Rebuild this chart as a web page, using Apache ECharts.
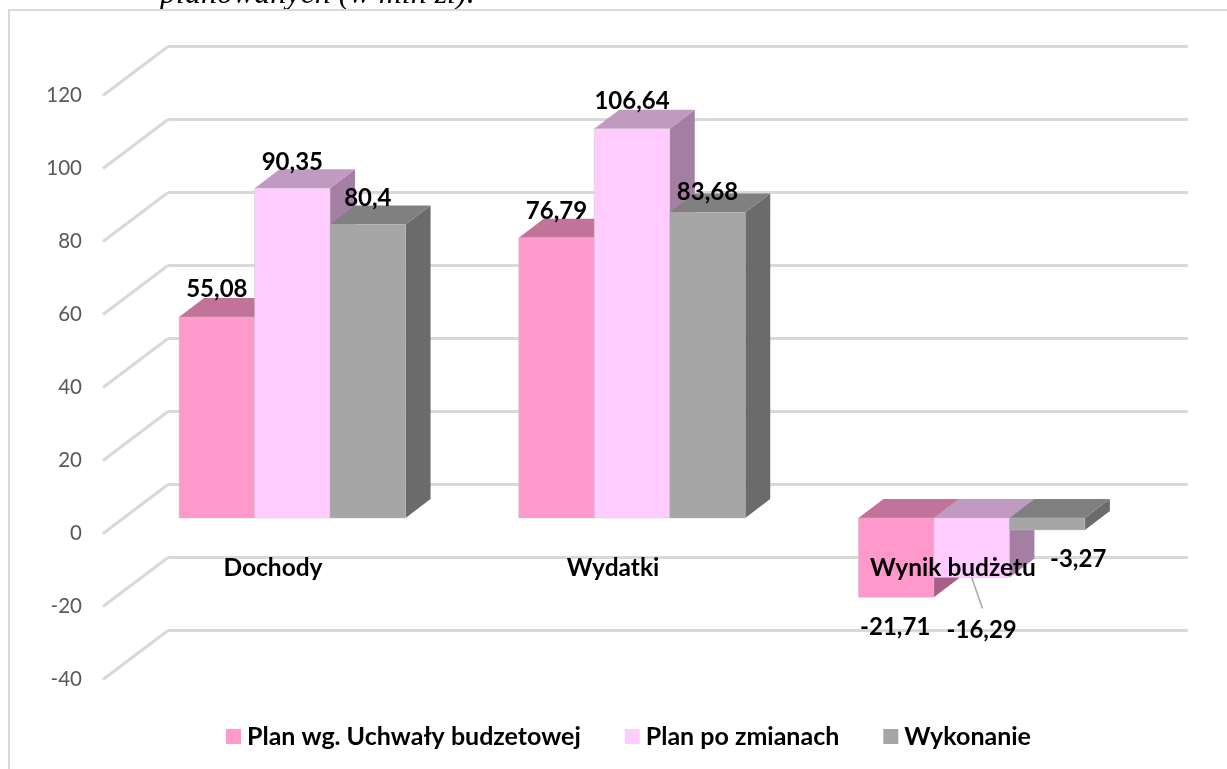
<!DOCTYPE html>
<html><head><meta charset="utf-8">
<style>html,body{margin:0;padding:0;background:#fff}#c{width:1227px;height:769px}</style>
<script src="https://cdn.jsdelivr.net/npm/echarts@6/dist/echarts.min.js"></script>
</head><body><div id="c"></div>
<script>
const categories = ['Dochody', 'Wydatki', 'Wynik budżetu'];
const planUchwala = [55.08, 76.79, -21.71];
const planZmiany = [90.35, 106.64, -16.29];
const wykonanie = [80.4, 83.68, -3.27];
const seriesNames = ['Plan wg. Uchwały budzetowej', 'Plan po zmianach', 'Wykonanie'];
const valueLabels = [['55,08','76,79','-21,71'], ['90,35','106,64','-16,29'], ['80,4','83,68','-3,27']];
const yTicks = [-40, -20, 0, 20, 40, 60, 80, 100, 120];
const titleFragment = 'planowanych (w mln zł).';

// styling / layout
const faces = [
  {front:'#FF99CC', top:'#C1739A', side:'#A66087'},
  {front:'#FFCCFF', top:'#C19AC1', side:'#A47FA3'},
  {front:'#A6A6A6', top:'#808080', side:'#6B6B6B'}
];
const labelShift = [
  [[0,-28],[0,-26],[-1,30]],
  [[0,-26],[0,-27],[10,53]],
  [[0,-26],[0,-20],[31,29]]
];
const DX = 25, DY = 19, WALL_DX = 65, WALL_DY = 49;
const FONT = 'Lato, "Open Sans", sans-serif';
const GRID = '#D9D9D9';

function barItem(s, values) {
  return function (params, api) {
    const i = api.value(0), v = api.value(1);
    const band = api.size([1, 0])[0];
    const w = band / 4.5;
    const c = api.coord([i, 0]);
    const vy = api.coord([i, v])[1];
    const x0 = c[0] + (s - 1.5) * w, x1 = x0 + w;
    const y0 = c[1];
    const top = Math.min(y0, vy), bot = Math.max(y0, vy);
    const f = faces[s];
    const poly = (pts, fill) => ({type:'polygon', shape:{points:pts}, style:{fill:fill}});
    return {type:'group', children:[
      poly([[x1,top],[x1+DX,top-DY],[x1+DX,bot-DY],[x1,bot]], f.side),
      poly([[x0,top],[x1,top],[x1+DX,top-DY],[x0+DX,top-DY]], f.top),
      {type:'rect', shape:{x:x0,y:top,width:w,height:bot-top}, style:{fill:f.front, stroke:'rgba(190,190,190,0.4)', lineWidth:1}}
    ]};
  };
}
function labelItem(s) {
  return function (params, api) {
    const i = api.value(0), v = api.value(1);
    const band = api.size([1, 0])[0];
    const w = band / 4.5;
    const c = api.coord([i, v]);
    const sh = labelShift[s][i];
    return {type:'text', x:c[0] + (s - 1) * w + sh[0], y:c[1] + sh[1],
      style:{text:valueLabels[s][i], fill:'#000', font:'bold 24px ' + FONT, align:'center', verticalAlign:'middle'}};
  };
}
const allValues = [planUchwala, planZmiany, wykonanie];
const series = [];
allValues.forEach((vals, s) => {
  series.push({type:'custom', name:seriesNames[s], xAxisIndex:0, yAxisIndex:0, z:3,
    coordinateSystem:'cartesian2d', itemStyle:{color:faces[s].front},
    renderItem:barItem(s, vals), data:vals.map((v,i)=>[i,v]), silent:true});
});
// side-wall gridlines
series.push({type:'custom', xAxisIndex:1, yAxisIndex:1, z:1, silent:true,
  renderItem:function(params, api){
    const v = api.value(0);
    const p = api.coord([0, v]);
    const x = params.coordSys.x;
    return {type:'line', shape:{x1:x,y1:p[1],x2:x+WALL_DX,y2:p[1]-WALL_DY}, style:{stroke:GRID,lineWidth:3}};
  },
  data:yTicks.map(v=>[v])});
// leader line for the -16,29 label
series.push({type:'custom', xAxisIndex:0, yAxisIndex:0, z:4, silent:true,
  renderItem:function(params, api){
    const band = api.size([1, 0])[0];
    const p = api.coord([api.value(0), api.value(1)]);
    return {type:'line', shape:{x1:p[0],y1:p[1],x2:p[0]+band*0.032,y2:p[1]+31}, style:{stroke:'#A6A6A6',lineWidth:1.5}};
  },
  data:[[2, planZmiany[2]]]});
allValues.forEach((vals, s) => {
  series.push({type:'custom', xAxisIndex:0, yAxisIndex:0, z:6, silent:true,
    renderItem:labelItem(s), data:vals.map((v,i)=>[i,v])});
});

const chart = echarts.init(document.getElementById('c'), null, {renderer:'canvas'});
chart.setOption({
  animation:false,
  backgroundColor:'#fff',
  graphic:[
    {type:'text', left:160, top:-21, z:-3, style:{text:titleFragment, fill:'#000', font:'italic 32px "Liberation Serif", serif'}},
    {type:'rect', z:-2, shape:{x:9,y:10,width:1240,height:780}, style:{fill:'#fff', stroke:GRID, lineWidth:2}}
  ],
  grid:[
    {left:122.5, top:80, width:1019, height:584},   // bar plane
    {left:103, top:95.5, width:1020, height:584},   // front edge of the floor/wall
    {left:168, top:46, width:1020, height:584}      // back wall
  ],
  legend:{
    data:seriesNames, left:221, top:719, icon:'rect', itemWidth:15, itemHeight:15, itemGap:44,
    itemStyle:{borderWidth:0},
    textStyle:{fontFamily:FONT, fontWeight:'bold', fontSize:25, color:'#000', padding:[0,0,0,1]}
  },
  xAxis:[
    {gridIndex:0, type:'category', data:categories, show:false},
    {gridIndex:1, type:'category', data:categories, z:5, position:'bottom',
      axisLine:{show:false}, axisTick:{show:false}, splitLine:{show:false},
      axisLabel:{margin:-124, color:'#000', fontFamily:FONT, fontWeight:'bold', fontSize:24.5}},
    {gridIndex:2, type:'category', data:categories, show:false}
  ],
  yAxis:[
    {gridIndex:0, type:'value', min:-40, max:120, interval:20, show:false},
    {gridIndex:1, type:'value', min:-40, max:120, interval:20,
      axisLine:{show:false}, axisTick:{show:false}, splitLine:{show:false},
      axisLabel:{margin:21, color:'#595959', fontFamily:FONT, fontSize:20.5}},
    {gridIndex:2, type:'value', min:-40, max:120, interval:20,
      axisLine:{show:false}, axisTick:{show:false}, axisLabel:{show:false},
      splitLine:{show:true, lineStyle:{color:GRID, width:3}}}
  ],
  series:series
});
</script></body></html>
